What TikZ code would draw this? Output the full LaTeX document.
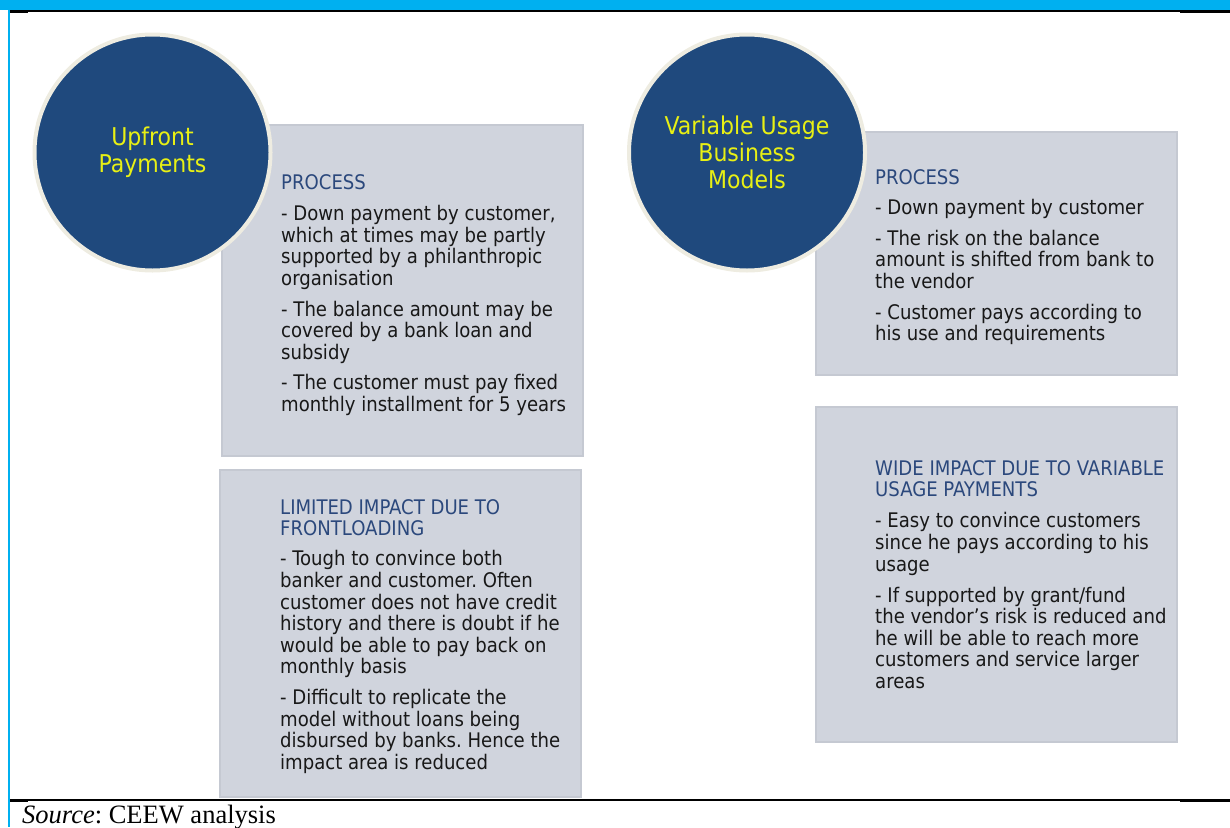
\documentclass[tikz,border=0pt]{standalone}
\usepackage{fontspec}
\setmainfont{Liberation Serif}
\newfontfamily\panelfont{DejaVu Sans Condensed}
\usepackage{xcolor}
\usepackage{tikz}
\frenchspacing

\definecolor{bandcyan}{HTML}{00B0F0}
\definecolor{discblue}{HTML}{1F497D}
\definecolor{discrim}{HTML}{EEECE1}
\definecolor{disctext}{RGB}{232,240,20}
\definecolor{panelgray}{RGB}{208,212,221}
\definecolor{paneledge}{RGB}{197,201,210}
\definecolor{headblue}{RGB}{43,72,124}
\definecolor{bodyink}{RGB}{24,24,24}

\begin{document}
\begin{tikzpicture}[x=1pt,y=-1pt,
  panel/.style={fill=panelgray,draw=paneledge,line width=1.2pt,inner sep=0pt},
  disc/.style={circle,fill=discblue,draw=discrim,line width=4pt,minimum size=236pt,
    inner sep=0pt,align=center,text=disctext,font=\panelfont\fontsize{24.5}{27.2}\selectfont},
  paneltext/.style={anchor=north west,align=left,inner sep=0pt,text=bodyink,
    font=\panelfont\fontsize{20.1}{21.6}\selectfont}]
  \useasboundingbox (0,0) rectangle (1230,827);
  % Frame
  \fill[bandcyan] (0,0) rectangle (1230,10);
  \draw[bandcyan,line width=2pt] (9,10) -- (9,827);
  \draw[line width=1.2pt] (10,11) -- (1230,11);
  \draw[line width=2.6pt] (10,11.5) -- (28,11.5);
  \draw[line width=2.6pt] (1180,11.5) -- (1230,11.5);
  \draw[line width=1.2pt] (10,800) -- (1230,800);
  \draw[line width=2.6pt] (10,800.5) -- (28,800.5);
  \draw[line width=2.6pt] (1180,800.5) -- (1230,800.5);
  % Panels
  \node[panel,minimum width=361pt,minimum height=331pt] (upproc) at (402.5,290.5) {};
  \node[panel,minimum width=361pt,minimum height=327pt] (upimpact) at (400.5,633.5) {};
  \node[panel,minimum width=361pt,minimum height=243pt] (varproc) at (996.5,253.5) {};
  \node[panel,minimum width=361pt,minimum height=335pt] (varimpact) at (996.5,574.5) {};
  % Panel texts
  \node[paneltext] (upproctext) at (281,174) {{\color{headblue}PROCESS}\\[10pt]
    - Down payment by customer,\\ which at times may be partly\\ supported by a philanthropic\\ organisation\\[9pt]
    - The balance amount may be\\ covered by a bank loan and\\ subsidy\\[8.5pt]
    - The customer must pay fixed\\ monthly installment for 5 years};
  \node[paneltext] (upimpacttext) at (280,499) {{\color{headblue}LIMITED IMPACT DUE TO}\\ {\color{headblue}FRONTLOADING}\\[8.5pt]
    - Tough to convince both\\ banker and customer. Often\\ customer does not have credit\\ history and there is doubt if he\\ would be able to pay back on\\ monthly basis\\[9pt]
    - Difficult to replicate the\\ model without loans being\\ disbursed by banks. Hence the\\ impact area is reduced};
  \node[paneltext] (varproctext) at (875,169) {{\color{headblue}PROCESS}\\[9pt]
    - Down payment by customer\\[9pt]
    - The risk on the balance\\ amount is shifted from bank to\\ the vendor\\[9pt]
    - Customer pays according to\\ his use and requirements};
  \node[paneltext] (varimpacttext) at (875,460) {{\color{headblue}WIDE IMPACT DUE TO VARIABLE}\\ {\color{headblue}USAGE PAYMENTS}\\[9.5pt]
    - Easy to convince customers\\ since he pays according to his\\ usage\\[9.5pt]
    - If supported by grant/fund\\ the vendor’s risk is reduced and\\ he will be able to reach more\\ customers and service larger\\ areas};
  % Discs
  \node[disc] (upfront) at (152.5,152.5) {Upfront\\Payments};
  \node[disc] (variable) at (747,152.5) {Variable Usage\\Business\\Models};
  % Source
  \node[anchor=base west,inner sep=0pt,font=\fontsize{26.5}{30}\selectfont] (source) at (22,823)
    {\textit{Source}: CEEW analysis};
\end{tikzpicture}
\end{document}
